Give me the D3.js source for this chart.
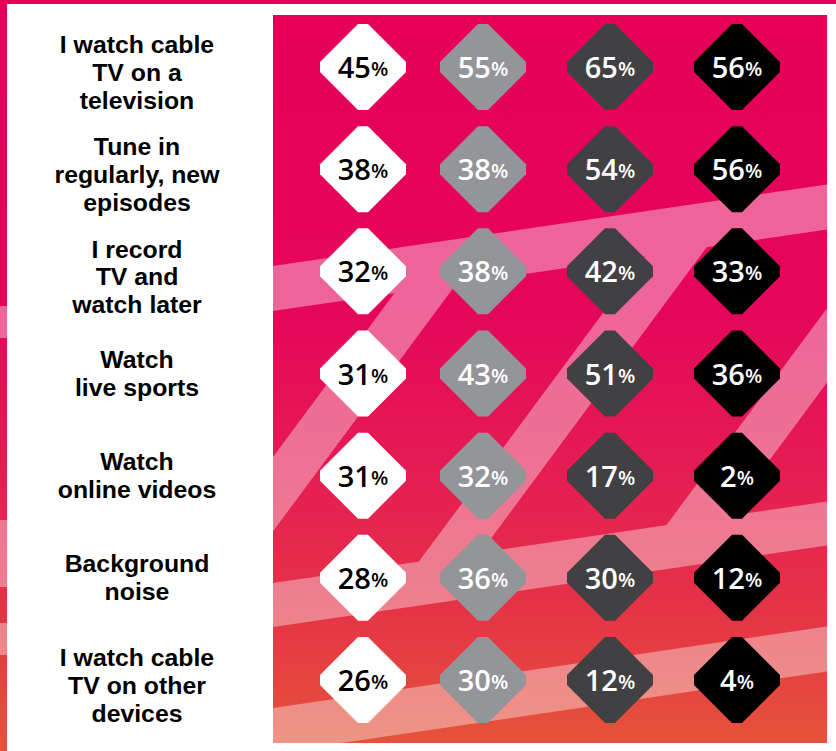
<!DOCTYPE html>
<html>
<head>
<meta charset="utf-8">
<script src="https://cdn.jsdelivr.net/npm/d3@7"></script>
<style>
  html, body { margin: 0; padding: 0; background: #ffffff; }
  svg { display: block; }
</style>
</head>
<body>
<div id="chart"></div>
<script>
// Survey answers, one row per viewing habit (label split into display lines)
const categories = [
  ["I watch cable", "TV on a", "television"],
  ["Tune in", "regularly, new", "episodes"],
  ["I record", "TV and", "watch later"],
  ["Watch", "live sports"],
  ["Watch", "online videos"],
  ["Background", "noise"],
  ["I watch cable", "TV on other", "devices"]
];

// Four respondent groups, shown as four columns of diamonds
const seriesKeys = ["groupA", "groupB", "groupC", "groupD"];
const groupA = [45, 38, 32, 31, 31, 28, 26];
const groupB = [55, 38, 38, 43, 32, 36, 30];
const groupC = [65, 54, 42, 51, 17, 30, 12];
const groupD = [56, 56, 33, 36, 2, 12, 4];
const seriesValues = [groupA, groupB, groupC, groupD];

const diamondFill = ["#ffffff", "#939598", "#414042", "#000000"];
const labelFill   = ["#000000", "#ffffff", "#ffffff", "#ffffff"];

const W = 836, H = 751;
const panel = { x0: 273, y0: 15, x1: 827, y1: 743 };

const svg = d3.select("#chart").append("svg")
  .attr("width", W).attr("height", H)
  .attr("viewBox", `0 0 ${W} ${H}`);

const defs = svg.append("defs");

// Magenta-to-orange background wash
const washStops = [[0, "#e6005a"], [0.4, "#e5065a"], [0.65, "#e51f52"], [0.82, "#e53446"], [1, "#e5533a"]];
const grad = defs.append("linearGradient")
  .attr("id", "wash").attr("x1", 0).attr("y1", 0).attr("x2", 0).attr("y2", 1);
washStops.forEach(([o, c]) => grad.append("stop").attr("offset", o).attr("stop-color", c));

const gradFull = defs.append("linearGradient")
  .attr("id", "washFull").attr("gradientUnits", "userSpaceOnUse")
  .attr("x1", 0).attr("y1", 0).attr("x2", 0).attr("y2", H);
washStops.forEach(([o, c]) => gradFull.append("stop").attr("offset", o).attr("stop-color", c));

defs.append("clipPath").attr("id", "panelClip")
  .append("rect")
  .attr("x", panel.x0).attr("y", panel.y0)
  .attr("width", panel.x1 - panel.x0).attr("height", panel.y1 - panel.y0);

// Page frame: thin magenta rule on top and left edge
svg.append("rect").attr("x", 0).attr("y", 0).attr("width", 7).attr("height", H)
  .attr("fill", "url(#washFull)");
const edgeBands = svg.append("g").attr("opacity", 0.38).attr("fill", "#fff");
[[306, 338], [520, 587], [623, 655]].forEach(([a, b]) =>
  edgeBands.append("rect").attr("x", 0).attr("y", a).attr("width", 7).attr("height", b - a));
svg.append("rect").attr("x", 0).attr("y", 0).attr("width", W).attr("height", 4)
  .attr("fill", "#e6005a");

// Coloured panel behind the diamonds
svg.append("rect")
  .attr("x", panel.x0).attr("y", panel.y0)
  .attr("width", panel.x1 - panel.x0).attr("height", panel.y1 - panel.y0)
  .attr("fill", "url(#wash)");

// Decorative light ribbons: shallow rising bands joined by steep risers
const shallowSlope = 0.147, steepSlope = 1.35, steepWidth = 55;
function shallowBand(yAtLeft, thick) {
  const yTop = x => yAtLeft - shallowSlope * (x - panel.x0);
  const xa = panel.x0 - 20, xb = panel.x1 + 20;
  return [[xa, yTop(xa)], [xb, yTop(xb)], [xb, yTop(xb) + thick], [xa, yTop(xa) + thick]];
}
function steepBand(xRef, yRef, yLow, yHigh) {
  const xl = y => xRef + (yRef - y) / steepSlope;
  return [[xl(yLow), yLow], [xl(yHigh), yHigh], [xl(yHigh) + steepWidth, yHigh], [xl(yLow) + steepWidth, yLow]];
}
const ribbons = [
  shallowBand(266, 45),
  shallowBand(583, 44),
  shallowBand(708, 45),
  steepBand(273.3, 456.7, 800, 270),
  steepBand(420, 560, 585, 230),
  steepBand(668, 523, 540, 250)
];
const ribbonG = svg.append("g")
  .attr("clip-path", "url(#panelClip)")
  .attr("opacity", 0.38);
ribbonG.selectAll("path").data(ribbons).join("path")
  .attr("d", d => d3.line()(d) + "Z")
  .attr("fill", "#ffffff");

// Scales
const y = d3.scalePoint()
  .domain(d3.range(categories.length))
  .range([67, 680]);
const x = d3.scaleOrdinal()
  .domain(seriesKeys)
  .range([363, 483, 610, 737]);

// Row labels on the white side
const labelX = 137, lineH = 27.8;
const labels = svg.append("g")
  .attr("font-family", "'Liberation Sans', Arial, sans-serif")
  .attr("font-weight", 700)
  .attr("font-size", 24.8)
  .attr("fill", "#000")
  .attr("text-anchor", "middle");
labels.selectAll("text").data(categories).join("text")
  .attr("x", labelX)
  .attr("y", (d, i) => y(i) - (d.length - 1) * lineH / 2 + 5.5 * d.length - 2.5)
  .selectAll("tspan").data(d => d).join("tspan")
  .attr("x", labelX)
  .attr("dy", (d, i) => i === 0 ? 0 : lineH)
  .text(d => d);

// Diamonds with clipped tips
const R = 43, C = 5;
function diamond(cx, cy) {
  return d3.line()([
    [cx - R, cy - C], [cx - C, cy - R], [cx + C, cy - R], [cx + R, cy - C],
    [cx + R, cy + C], [cx + C, cy + R], [cx - C, cy + R], [cx - R, cy + C]
  ]) + "Z";
}

const cells = [];
seriesKeys.forEach((k, s) => {
  seriesValues[s].forEach((v, i) => cells.push({ key: k, s, i, v }));
});

const cellG = svg.append("g").selectAll("g").data(cells).join("g");
cellG.append("path")
  .attr("d", d => diamond(x(d.key), y(d.i)))
  .attr("fill", d => diamondFill[d.s]);

const valText = cellG.append("text")
  .attr("x", d => x(d.key))
  .attr("y", d => y(d.i) + 11)
  .attr("text-anchor", "middle")
  .attr("font-family", "'Open Sans', 'DejaVu Sans', sans-serif")
  .attr("font-weight", 600)
  .attr("fill", d => labelFill[d.s]);
valText.append("tspan")
  .attr("font-size", 29)
  .text(d => d.v);
valText.append("tspan")
  .attr("font-size", 20)
  .attr("dy", -2)
  .text("%");
</script>
</body>
</html>
